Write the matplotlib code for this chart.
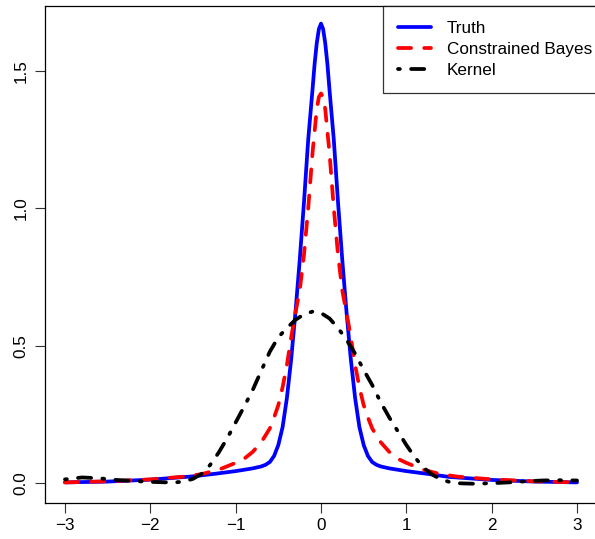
import matplotlib
matplotlib.use("Agg")
import matplotlib.pyplot as plt

plt.rcParams['font.family'] = ['Liberation Sans', 'DejaVu Sans']

# ---- data ----
truth_x = [-3.0, -2.5, -2.0, -1.5, -1.25, -1.0, -0.8, -0.7, -0.65, -0.6, -0.55, -0.5, -0.45,
           -0.4, -0.35, -0.3, -0.25, -0.2, -0.15, -0.1, -0.075, -0.05, -0.025, 0.0, 0.025,
           0.05, 0.075, 0.1, 0.15, 0.2, 0.25, 0.3, 0.35, 0.4, 0.45, 0.5, 0.55, 0.6, 0.65,
           0.7, 0.8, 1.0, 1.25, 1.5, 2.0, 2.5, 3.0]
truth_y = [0.004, 0.007, 0.014, 0.026, 0.035, 0.045, 0.055, 0.062, 0.068, 0.078, 0.100,
           0.140, 0.205, 0.310, 0.450, 0.620, 0.810, 1.020, 1.250, 1.430, 1.525, 1.600,
           1.652, 1.672, 1.652, 1.600, 1.525, 1.430, 1.250, 1.020, 0.810, 0.620, 0.450,
           0.310, 0.205, 0.140, 0.100, 0.078, 0.068, 0.062, 0.055, 0.045, 0.035, 0.024,
           0.013, 0.007, 0.004]

cb_x = [-3.0, -2.5, -2.0, -1.6, -1.4, -1.2, -1.0, -0.9, -0.8, -0.7, -0.6, -0.55, -0.5,
        -0.45, -0.4, -0.35, -0.3, -0.25, -0.2, -0.15, -0.1, -0.05, -0.025, 0.0, 0.025,
        0.05, 0.1, 0.15, 0.2, 0.25, 0.3, 0.35, 0.4, 0.45, 0.5, 0.55, 0.6, 0.7, 0.8, 0.9,
        1.0, 1.2, 1.4, 1.6, 2.0, 2.5, 3.0]
cb_y = [0.004, 0.008, 0.015, 0.025, 0.034, 0.050, 0.075, 0.090, 0.115, 0.150, 0.200,
        0.240, 0.285, 0.350, 0.430, 0.530, 0.620, 0.700, 0.830, 1.000, 1.200, 1.360,
        1.405, 1.418, 1.405, 1.360, 1.200, 1.000, 0.830, 0.700, 0.620, 0.530, 0.430,
        0.350, 0.285, 0.240, 0.200, 0.150, 0.115, 0.090, 0.075, 0.050, 0.034, 0.025,
        0.015, 0.008, 0.004]

kern_x = [-3.0, -2.8, -2.6, -2.4, -2.2, -2.0, -1.8, -1.7, -1.6, -1.5, -1.4, -1.3, -1.2,
          -1.1, -1.0, -0.9, -0.8, -0.7, -0.6, -0.5, -0.4, -0.3, -0.2, -0.1, 0.0, 0.1,
          0.2, 0.3, 0.4, 0.5, 0.6, 0.7, 0.8, 0.9, 1.0, 1.1, 1.2, 1.3, 1.4, 1.5, 1.6, 1.8,
          2.0, 2.2, 2.4, 2.6, 2.8, 3.0]
kern_y = [0.015, 0.022, 0.019, 0.013, 0.009, 0.006, 0.004, 0.004, 0.008, 0.017, 0.035,
          0.067, 0.112, 0.164, 0.222, 0.280, 0.340, 0.410, 0.479, 0.532, 0.565, 0.595,
          0.615, 0.625, 0.620, 0.600, 0.565, 0.522, 0.472, 0.413, 0.358, 0.295, 0.240,
          0.190, 0.140, 0.095, 0.058, 0.033, 0.016, 0.006, 0.001, -0.001, 0.001, 0.004,
          0.008, 0.011, 0.012, 0.011]

series_labels = ["Truth", "Constrained Bayes", "Kernel"]
x_ticks = [-3, -2, -1, 0, 1, 2, 3]
y_ticks = [0.0, 0.5, 1.0, 1.5]
y_ticklabels = ["0.0", "0.5", "1.0", "1.5"]

# ---- figure ----
W, H, DPI = 595, 539, 100
fig = plt.figure(figsize=(W / DPI, H / DPI), dpi=DPI)
ax = fig.add_axes([44.5 / W, 36 / H, 553 / W, 497 / H])

lw = 2.7
ax.plot(truth_x, truth_y, color="#0000FF", lw=lw, solid_capstyle="round",
        solid_joinstyle="round", label=series_labels[0])
ax.plot(cb_x, cb_y, color="#FF0000", lw=lw, dashes=(3.5, 3.5), dash_capstyle="round",
        label=series_labels[1])
ax.plot(kern_x, kern_y, color="black", lw=lw, dashes=(0.5, 3, 3.5, 3), dash_capstyle="round",
        label=series_labels[2])

ax.set_xlim(-3.24, 3.24)
ax.set_ylim(-0.0709, 1.736)
ax.set_xticks(x_ticks)
ax.set_xticklabels([str(t).replace("-", "\u2212") for t in x_ticks])
ax.set_yticks(y_ticks)
ax.set_yticklabels(y_ticklabels, rotation=90, va="center")

fs = 12.3
ax.tick_params(axis="both", direction="out", length=7, width=0.8, labelsize=fs,
               color="#333333")
ax.tick_params(axis="x", pad=4)
ax.tick_params(axis="y", pad=4.5)
for s in ax.spines.values():
    s.set_linewidth(0.9)
    s.set_color("black")

leg = ax.legend(loc="upper right", bbox_to_anchor=(1 + 9 / 553, 1.0), borderaxespad=0,
                fontsize=fs, frameon=True, fancybox=False, edgecolor="black",
                handlelength=1.93, handletextpad=0.94, labelspacing=0.37, borderpad=0.85)
leg.get_frame().set_linewidth(0.9)

fig.savefig("out.png", dpi=DPI)
